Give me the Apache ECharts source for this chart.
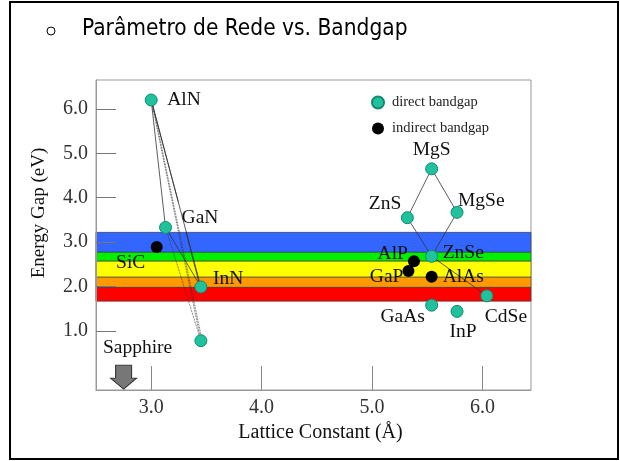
<!DOCTYPE html>
<html>
<head>
<meta charset="utf-8">
<script src="https://cdn.jsdelivr.net/npm/echarts@6/dist/echarts.min.js"></script>
<style>html,body{margin:0;padding:0;background:#fff}#c{width:620px;height:461px}</style>
</head>
<body>
<div id="c"></div>
<script>
// ---- data ----
const directNames = ['AlN', 'GaN', 'InN', 'InN2', 'MgS', 'ZnS', 'MgSe', 'ZnSe', 'CdSe', 'GaAs', 'InP'];
const directX     = [3.00, 3.13, 3.45, 3.45, 5.54, 5.32, 5.77, 5.54, 6.04, 5.54, 5.77];
const directY     = [6.20, 3.33, 1.99, 0.78, 4.65, 3.55, 3.67, 2.68, 1.79, 1.58, 1.44];

const indirectNames = ['SiC', 'AlP', 'GaP', 'AlAs'];
const indirectX     = [3.05, 5.38, 5.33, 5.54];
const indirectY     = [2.89, 2.57, 2.35, 2.22];

// connections between compounds [from, to, style]
const connections = [
  ['AlN', 'GaN', 'solid'], ['AlN', 'InN', 'solid'], ['GaN', 'InN', 'solid'],
  ['AlN', 'InN2', 'dotted'], ['GaN', 'InN2', 'dotted'],
  ['MgS', 'ZnS', 'solid'], ['MgS', 'MgSe', 'solid'],
  ['ZnS', 'ZnSe', 'solid'], ['MgSe', 'ZnSe', 'solid'], ['ZnSe', 'CdSe', 'solid']
];
// short partial segments
const segments = [
  [[3.00, 6.20], [3.245, 3.91]],
  [[3.317, 3.21], [3.44, 2.02]],
  [[3.005, 6.20], [3.46, 0.80]]
];

// visible spectrum bands (eV edges, top to bottom)
const bandEdges  = [3.22, 2.77, 2.57, 2.21, 1.98, 1.67];
const bandColors = ['#3366ff', '#00ee00', '#ffff00', '#ff9900', '#ff0000'];

const xTicks = [3, 4, 5, 6];
const yTicks = [1, 2, 3, 4, 5, 6];

const substrateName = 'Sapphire';
const sapphire = [2.75, -0.04];

// ---- label placement (style only) ----
const labelPlace = {
  AlN: ['left', 16, 0], GaN: ['left', 16, -10], InN: ['left', 12, -8],
  MgS: ['center', 0, -19], ZnS: ['right', -6, -14], MgSe: ['left', 1, -11],
  ZnSe: ['left', 11, -3], CdSe: ['left', -2, 21], GaAs: ['center', -29, 12],
  InP: ['center', 6, 20], SiC: ['center', -26, 16], AlP: ['right', -6, -7],
  GaP: ['right', -5, 6], AlAs: ['left', 11, 0], Sapphire: ['center', 14, -29]
};

const serif = "'Liberation Serif','Times New Roman',serif";

function pointData(names, xs, ys) {
  return names.map((n, i) => {
    const p = labelPlace[n];
    const d = { name: n, value: [xs[i], ys[i]] };
    if (p) {
      d.label = { show: true, formatter: n, position: 'inside', align: p[0], verticalAlign: 'middle', offset: [p[1], p[2]] };
    } else {
      d.label = { show: false };
    }
    return d;
  });
}

const lookup = {};
directNames.forEach((n, i) => lookup[n] = [directX[i], directY[i]]);

const lineSeries = connections.map(c => ({
  type: 'line', silent: true, symbol: 'none', z: 3,
  data: [lookup[c[0]], lookup[c[1]]],
  lineStyle: { color: '#333', width: 0.8, type: c[2] }
})).concat(segments.map((s, i) => ({
  type: 'line', silent: true, symbol: 'none', z: 3,
  data: s,
  lineStyle: { color: '#333', width: 0.8, type: i === 2 ? 'dotted' : 'solid' }
})));

const bandAreas = [];
for (let i = 0; i < bandColors.length; i++) {
  bandAreas.push([
    { yAxis: bandEdges[i], itemStyle: { color: bandColors[i], borderColor: '#333', borderWidth: 0.6 } },
    { yAxis: bandEdges[i + 1] }
  ]);
}

const labelFont = { fontFamily: serif, fontSize: 19.5, color: '#111' };

const chart = echarts.init(document.getElementById('c'), null, { renderer: 'canvas' });
chart.setOption({
  animation: false,
  backgroundColor: '#fff',
  title: {
    text: 'Parâmetro de Rede vs. Bandgap',
    left: 77, top: 13,
    textStyle: { fontFamily: "'DejaVu Sans Condensed','DejaVu Sans',sans-serif", fontSize: 22.5, fontWeight: 'normal', color: '#000' }
  },
  graphic: [
    { type: 'rect', shape: { x: 10, y: 2, width: 608, height: 457 }, style: { fill: 'none', stroke: '#000', lineWidth: 2 }, silent: true },
    { type: 'circle', shape: { cx: 51, cy: 31, r: 4 }, style: { fill: 'none', stroke: '#000', lineWidth: 1 }, silent: true }
  ],
  legend: {
    data: ['direct bandgap', 'indirect bandgap'],
    orient: 'vertical', left: 366, top: 90,
    itemWidth: 12, itemHeight: 12, itemGap: 11, icon: 'circle',
    textStyle: { fontFamily: serif, fontSize: 14.5, color: '#222', padding: [0, 0, 0, 3] }
  },
  grid: { left: 96, right: 89, top: 80, bottom: 71, show: true, borderColor: '#999', borderWidth: 1, backgroundColor: 'transparent' },
  xAxis: {
    type: 'value', min: 2.5, max: 6.44, z: 4,
    name: 'Lattice Constant (Å)', nameLocation: 'middle', nameGap: 24,
    nameTextStyle: { fontFamily: serif, fontSize: 20, color: '#111', padding: [0, 0, 0, 14] },
    axisLine: { show: true, onZero: false, lineStyle: { color: '#999' } },
    axisTick: { show: true, inside: true, length: 24, customValues: xTicks, lineStyle: { color: '#888' } },
    axisLabel: { customValues: xTicks, formatter: v => v.toFixed(1), margin: 8, fontFamily: serif, fontSize: 20, color: '#333' },
    splitLine: { show: false }
  },
  yAxis: {
    type: 'value', min: -0.33, max: 6.65, z: 4,
    name: 'Energy Gap (eV)', nameLocation: 'middle', nameGap: 47,
    nameTextStyle: { fontFamily: serif, fontSize: 19, color: '#111', padding: [0, 0, 0, 44] },
    axisLine: { show: true, onZero: false, lineStyle: { color: '#999' } },
    axisTick: { show: true, inside: true, length: 20, customValues: yTicks, lineStyle: { color: '#777' } },
    axisLabel: { customValues: yTicks, formatter: v => v.toFixed(1), margin: 8, fontFamily: serif, fontSize: 20, color: '#333' },
    splitLine: { show: false }
  },
  series: [
    {
      type: 'line', data: [], z: 0, silent: true,
      markArea: { silent: true, data: bandAreas }
    }
  ].concat(lineSeries).concat([
    {
      name: 'direct bandgap', type: 'scatter', z: 5, symbolSize: 12,
      itemStyle: { color: '#1fc29c', borderColor: '#148a70', borderWidth: 1, opacity: 1 },
      label: labelFont,
      data: pointData(directNames, directX, directY)
    },
    {
      name: 'indirect bandgap', type: 'scatter', z: 5, symbolSize: 12,
      itemStyle: { color: '#000', opacity: 1 },
      label: labelFont,
      data: pointData(indirectNames, indirectX, indirectY)
    },
    {
      name: 'substrate', type: 'scatter', z: 5, silent: true,
      symbol: 'path://M5,0L21,0L21,13L26,13L13,24L0,13L5,13Z',
      symbolSize: [26, 24],
      itemStyle: { color: '#777', borderColor: '#333', borderWidth: 1, opacity: 1 },
      label: { show: false },
      data: [sapphire]
    },
    {
      name: 'substrateLabel', type: 'scatter', z: 5, symbol: 'circle', symbolSize: 12,
      itemStyle: { color: 'rgba(0,0,0,0)', opacity: 1 },
      label: labelFont,
      data: pointData([substrateName], [sapphire[0]], [sapphire[1]])
    }
  ])
});
</script>
</body>
</html>
